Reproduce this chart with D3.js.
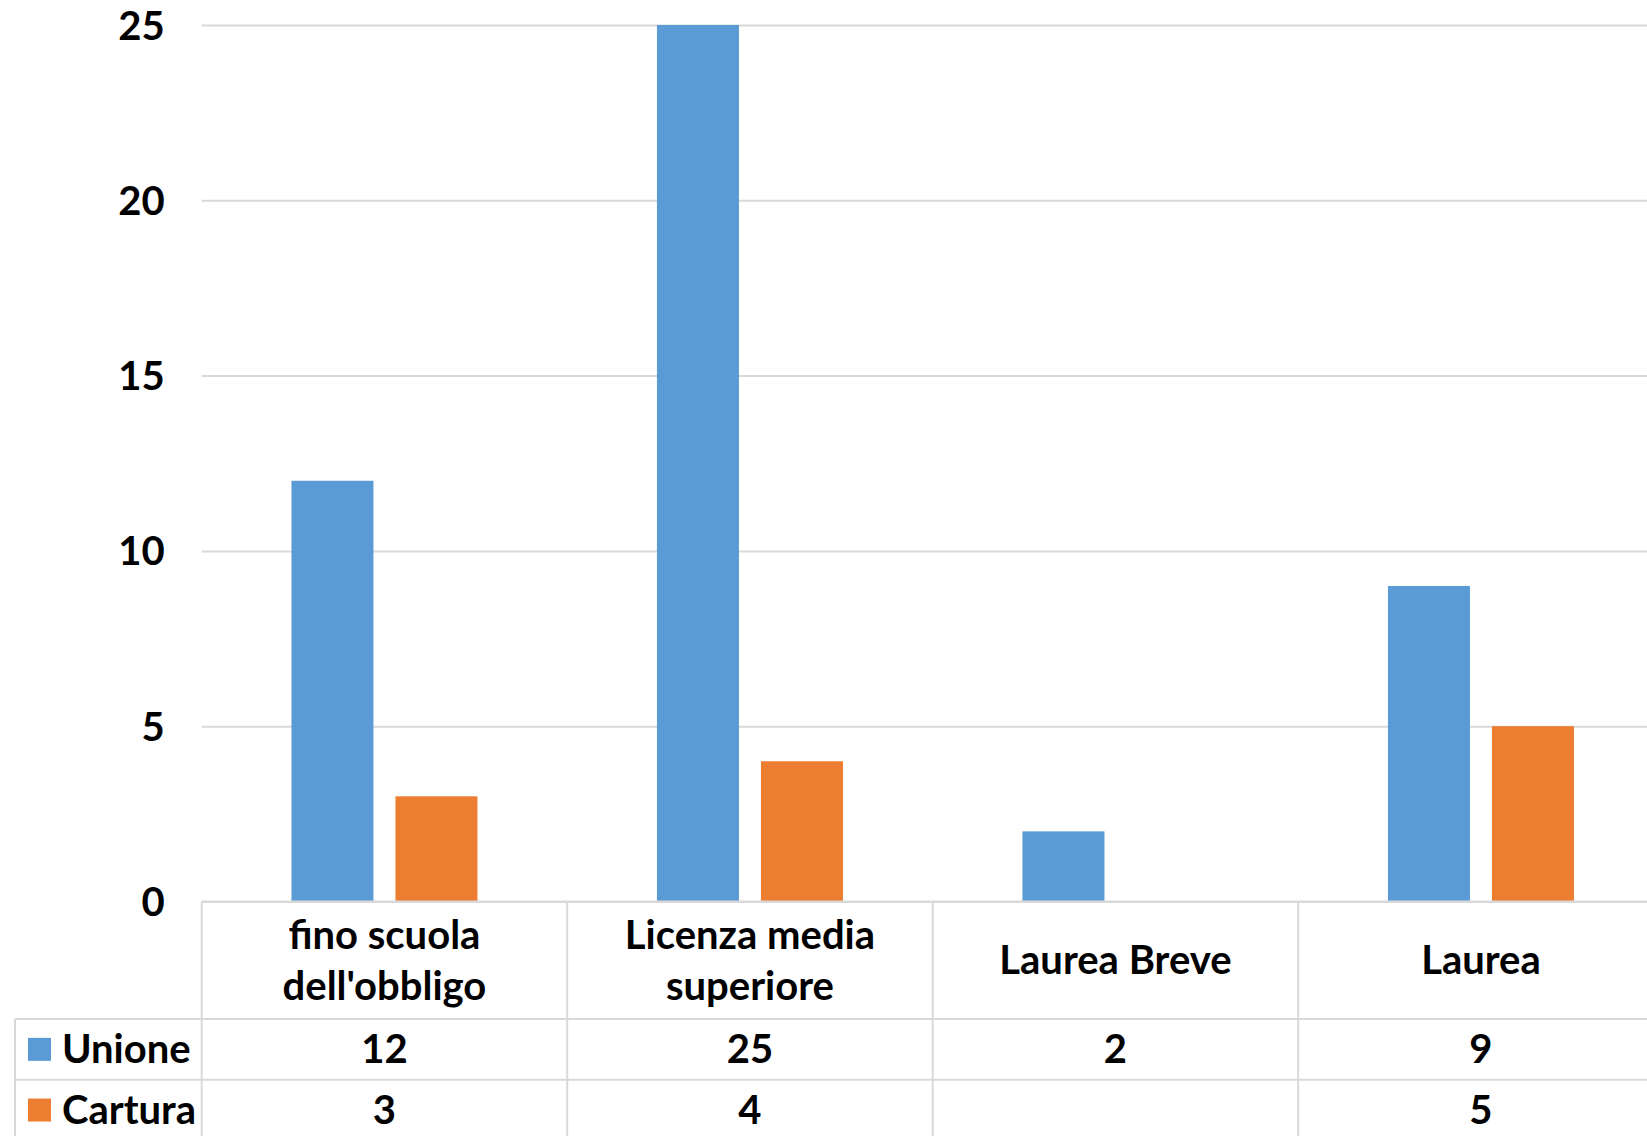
<!DOCTYPE html>
<html>
<head>
<meta charset="utf-8">
<script src="https://cdn.jsdelivr.net/npm/d3@7"></script>
<style>
  html, body { margin: 0; padding: 0; background: #ffffff; overflow: hidden; }
  svg { display: block; }
  text { font-family: "Lato", "Open Sans", sans-serif; font-weight: 700; fill: #000; }
</style>
</head>
<body>
<svg id="chart" width="1647" height="1136"></svg>
<script>
const categories = [["fino scuola", "dell'obbligo"], ["Licenza media", "superiore"], ["Laurea Breve"], ["Laurea"]];
const seriesNames = ["Unione", "Cartura"];
const unioneValues = [12, 25, 2, 9];
const carturaValues = [3, 4, null, 5];
const yTicks = [0, 5, 10, 15, 20, 25];
const colors = ["#5B9BD5", "#ED7D31"];

const W = 1647, H = 1136;
const svg = d3.select("#chart");
const plotLeft = 201.7, catStep = 365.5;
const yTop = 25, yBase = 901.5;
const row1 = 1019, row2 = 1079.7, rowH = row2 - row1;
const tableLeft = 15;
const fontSize = 40;
const grid = "#d9d9d9";

const catKeys = categories.map(c => c.join(" "));
const x = d3.scaleBand().domain(catKeys).range([plotLeft, plotLeft + catStep * categories.length]).padding(0);
const xs = d3.scaleBand().domain(seriesNames).range([0, x.bandwidth()]).paddingInner(22 / 104).paddingOuter(0.863);
const y = d3.scaleLinear().domain([0, 25]).range([yBase, yTop]);

const series = [unioneValues, carturaValues];

// gridlines
const yAxis = d3.axisLeft(y).tickValues(yTicks).tickSize(-(W - plotLeft)).tickPadding(37);
const ga = svg.append("g").attr("transform", `translate(${plotLeft},0)`).call(yAxis);
ga.select(".domain").remove();
ga.selectAll(".tick line").attr("stroke", grid).attr("stroke-width", 2);
ga.selectAll(".tick text").attr("font-size", fontSize).attr("font-family", "Lato").attr("font-weight", 700).attr("fill", "#000").attr("x", -37).attr("dy", "0.35em");

// bars
series.forEach((vals, si) => {
  svg.append("g").selectAll("rect")
    .data(vals.map((v, i) => ({ v, c: catKeys[i] })).filter(d => d.v !== null))
    .join("rect")
    .attr("x", d => x(d.c) + xs(seriesNames[si]))
    .attr("width", xs.bandwidth())
    .attr("y", d => y(d.v))
    .attr("height", d => yBase - y(d.v))
    .attr("fill", colors[si]);
});

// table lines
const tg = svg.append("g").attr("stroke", grid).attr("stroke-width", 2);
tg.append("line").attr("x1", plotLeft).attr("x2", W).attr("y1", yBase).attr("y2", yBase);
tg.append("line").attr("x1", tableLeft).attr("x2", W).attr("y1", row1).attr("y2", row1);
tg.append("line").attr("x1", tableLeft).attr("x2", W).attr("y1", row2).attr("y2", row2);
tg.append("line").attr("x1", tableLeft).attr("x2", tableLeft).attr("y1", row1).attr("y2", H);
catKeys.forEach(k => {
  tg.append("line").attr("x1", x(k)).attr("x2", x(k)).attr("y1", yBase).attr("y2", H);
});

// category labels
const headerMid = (yBase + row1) / 2;
const lineGap = 51;
categories.forEach((lines, i) => {
  const cx = x(catKeys[i]) + x.bandwidth() / 2;
  const t = svg.append("text").attr("text-anchor", "middle").attr("font-size", fontSize);
  lines.forEach((ln, j) => {
    t.append("tspan").attr("x", cx)
      .attr("y", headerMid + (j - (lines.length - 1) / 2) * lineGap)
      .attr("dy", "0.35em").text(ln);
  });
});

// legend rows + values
series.forEach((vals, si) => {
  const cy = row1 + rowH * si + rowH / 2;
  svg.append("rect").attr("x", 28).attr("y", cy - 11.5).attr("width", 23).attr("height", 23).attr("fill", colors[si]);
  svg.append("text").attr("x", 62).attr("y", cy).attr("dy", "0.35em").attr("font-size", fontSize).text(seriesNames[si]);
  vals.forEach((v, i) => {
    if (v === null) return;
    svg.append("text").attr("x", x(catKeys[i]) + x.bandwidth() / 2).attr("y", cy)
      .attr("dy", "0.35em").attr("text-anchor", "middle").attr("font-size", fontSize).text(v);
  });
});
</script>
</body>
</html>
